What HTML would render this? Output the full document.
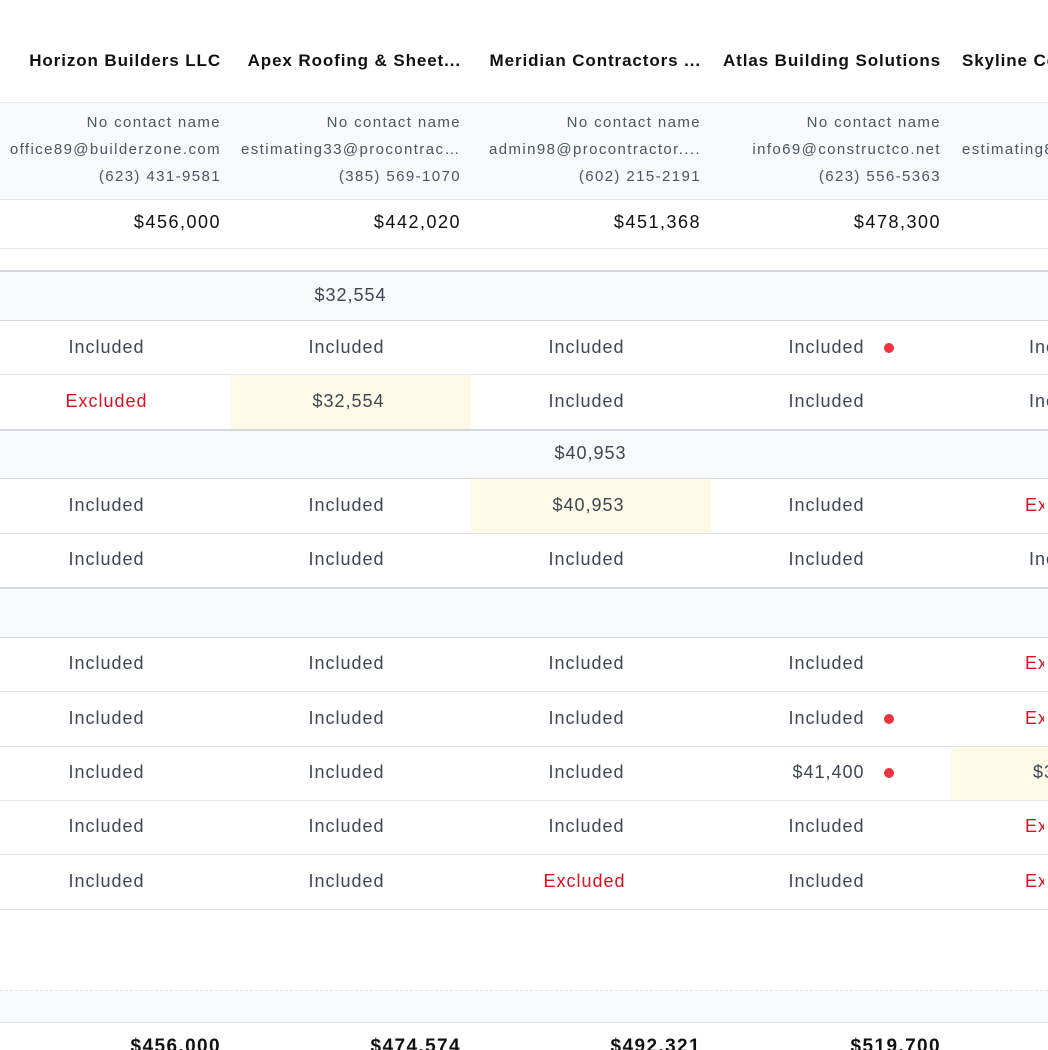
<!DOCTYPE html>
<html><head><meta charset="utf-8"><style>
*{margin:0;padding:0;box-sizing:border-box}
html,body{width:1048px;height:1050px;overflow:hidden}
body{background:#fff;font-family:"Liberation Sans",Arial,sans-serif;position:relative}
div{position:absolute}
.bg{left:0;width:1048px;background:#f8f9fb}
.ln{left:0;width:1048px;height:1px;background:#e3e5e9}
.ln2{left:0;width:1048px;height:2px;background:#d5d8dd}
.h{top:48px;height:26px;line-height:26px;width:219px;text-align:right;font-weight:bold;font-size:17px;letter-spacing:0.9px;color:#111;white-space:nowrap;overflow:hidden;text-overflow:ellipsis}
.ct{width:231px;text-align:right;font-size:15px;letter-spacing:1.4px;color:#4b5563;height:20px;line-height:20px;white-space:nowrap;overflow:hidden;text-overflow:ellipsis}
.p{width:231px;text-align:right;font-size:18px;letter-spacing:1.5px;color:#111;height:24px;line-height:24px}
.v{width:240px;text-align:center;font-size:18px;letter-spacing:1px;text-indent:1px;color:#3f4654;height:24px;line-height:24px;white-space:nowrap}
.x{color:#e0101e}
.t{width:231px;text-align:right;font-size:19px;font-weight:bold;letter-spacing:1.4px;color:#111;height:26px;line-height:26px}
.hl{background:#fdfbe7;width:240px}
.dot{width:10px;height:10px;border-radius:50%;background:#ee3340;left:884px}
</style></head><body>
<div class="bg" style="top:102px;height:97px"></div>
<div class="bg" style="top:271px;height:49px"></div>
<div class="bg" style="top:430px;height:48px"></div>
<div class="bg" style="top:588px;height:49px"></div>
<div class="bg" style="top:990px;height:32px"></div>
<div class="hl" style="left:231px;top:375px;height:54px"></div>
<div class="hl" style="left:471px;top:479px;height:54px"></div>
<div class="hl" style="left:951px;top:747px;height:53px;width:97px"></div>

<div class="ln" style="top:102px"></div>
<div class="ln" style="top:199px"></div>
<div class="ln" style="top:248px"></div>
<div class="ln2" style="top:270px"></div>
<div class="ln" style="top:320px;background:#d5d8dd"></div>
<div class="ln" style="top:374px"></div>
<div class="ln2" style="top:429px"></div>
<div class="ln" style="top:478px;background:#d5d8dd"></div>
<div class="ln" style="top:533px"></div>
<div class="ln2" style="top:587px"></div>
<div class="ln" style="top:637px;background:#d5d8dd"></div>
<div class="ln" style="top:691px"></div>
<div class="ln" style="top:746px"></div>
<div class="ln" style="top:800px"></div>
<div class="ln" style="top:854px"></div>
<div class="ln" style="top:909px"></div>
<div class="ln" style="top:990px;height:0;border-top:1px dashed #e3e5e9;background:none"></div>
<div class="ln" style="top:1022px"></div>

<div class="h" style="left:2px">Horizon Builders LLC</div>
<div class="h" style="left:242px">Apex Roofing &amp; Sheet...</div>
<div class="h" style="left:482px">Meridian Contractors ...</div>
<div class="h" style="left:722px">Atlas Building Solutions</div>
<div class="h" style="left:962px;text-align:left;width:86px;text-overflow:clip">Skyline Construction</div>

<div class="ct" style="left:-10px;top:113px">No contact name</div>
<div class="ct" style="left:-10px;top:140px">office89@builderzone.com</div>
<div class="ct" style="left:-10px;top:167px">(623) 431-9581</div>
<div class="ct" style="left:230px;top:113px">No contact name</div>
<div class="ct" style="left:230px;top:140px;padding-left:11px">estimating33@procontrac...</div>
<div class="ct" style="left:230px;top:167px">(385) 569-1070</div>
<div class="ct" style="left:470px;top:113px">No contact name</div>
<div class="ct" style="left:470px;top:140px;padding-left:11px">admin98@procontractor....</div>
<div class="ct" style="left:470px;top:167px">(602) 215-2191</div>
<div class="ct" style="left:710px;top:113px">No contact name</div>
<div class="ct" style="left:710px;top:140px">info69@constructco.net</div>
<div class="ct" style="left:710px;top:167px">(623) 556-5363</div>
<div class="ct" style="left:962px;top:140px;text-align:left;width:86px;text-overflow:clip">estimating88@procontrac</div>

<div class="p" style="left:-10px;top:210px">$456,000</div>
<div class="p" style="left:230px;top:210px">$442,020</div>
<div class="p" style="left:470px;top:210px">$451,368</div>
<div class="p" style="left:710px;top:210px">$478,300</div>

<div class="v" style="left:230px;top:283px">$32,554</div>
<div class="v" style="left:-14px;top:335px">Included</div>
<div class="v" style="left:226px;top:335px">Included</div>
<div class="v" style="left:466px;top:335px">Included</div>
<div class="v" style="left:706px;top:335px">Included</div>
<div class="dot" style="top:343px"></div>
<div class="v" style="left:946px;top:335px;width:102px;text-align:left;left:1028px">Included</div>

<div class="v x" style="left:-14px;top:389px">Excluded</div>
<div class="v" style="left:228px;top:389px">$32,554</div>
<div class="v" style="left:466px;top:389px">Included</div>
<div class="v" style="left:706px;top:389px">Included</div>
<div class="v" style="top:389px;width:20px;text-align:left;left:1028px;overflow:hidden">Included</div>

<div class="v" style="left:470px;top:441px">$40,953</div>
<div class="v" style="left:-14px;top:493px">Included</div>
<div class="v" style="left:226px;top:493px">Included</div>
<div class="v" style="left:468px;top:493px">$40,953</div>
<div class="v" style="left:706px;top:493px">Included</div>
<div class="v x" style="top:493px;width:20px;text-align:left;left:1024px;overflow:hidden">Excluded</div>

<div class="v" style="left:-14px;top:547px">Included</div>
<div class="v" style="left:226px;top:547px">Included</div>
<div class="v" style="left:466px;top:547px">Included</div>
<div class="v" style="left:706px;top:547px">Included</div>
<div class="v" style="top:547px;width:20px;text-align:left;left:1028px;overflow:hidden">Included</div>

<div class="v" style="left:-14px;top:651px">Included</div>
<div class="v" style="left:226px;top:651px">Included</div>
<div class="v" style="left:466px;top:651px">Included</div>
<div class="v" style="left:706px;top:651px">Included</div>
<div class="v x" style="top:651px;width:20px;text-align:left;left:1024px;overflow:hidden">Excluded</div>

<div class="v" style="left:-14px;top:706px">Included</div>
<div class="v" style="left:226px;top:706px">Included</div>
<div class="v" style="left:466px;top:706px">Included</div>
<div class="v" style="left:706px;top:706px">Included</div>
<div class="dot" style="top:714px"></div>
<div class="v x" style="top:706px;width:20px;text-align:left;left:1024px;overflow:hidden">Excluded</div>

<div class="v" style="left:-14px;top:760px">Included</div>
<div class="v" style="left:226px;top:760px">Included</div>
<div class="v" style="left:466px;top:760px">Included</div>
<div class="v" style="left:708px;top:760px">$41,400</div>
<div class="dot" style="top:768px"></div>
<div class="v" style="top:760px;width:16px;text-align:left;left:1032px;overflow:hidden">$38,900</div>

<div class="v" style="left:-14px;top:814px">Included</div>
<div class="v" style="left:226px;top:814px">Included</div>
<div class="v" style="left:466px;top:814px">Included</div>
<div class="v" style="left:706px;top:814px">Included</div>
<div class="v x" style="top:814px;width:20px;text-align:left;left:1024px;overflow:hidden">Excluded</div>

<div class="v" style="left:-14px;top:869px">Included</div>
<div class="v" style="left:226px;top:869px">Included</div>
<div class="v x" style="left:464px;top:869px">Excluded</div>
<div class="v" style="left:706px;top:869px">Included</div>
<div class="v x" style="top:869px;width:20px;text-align:left;left:1024px;overflow:hidden">Excluded</div>

<div class="t" style="left:-10px;top:1034px">$456,000</div>
<div class="t" style="left:230px;top:1034px">$474,574</div>
<div class="t" style="left:470px;top:1034px">$492,321</div>
<div class="t" style="left:710px;top:1034px">$519,700</div>
</body></html>
